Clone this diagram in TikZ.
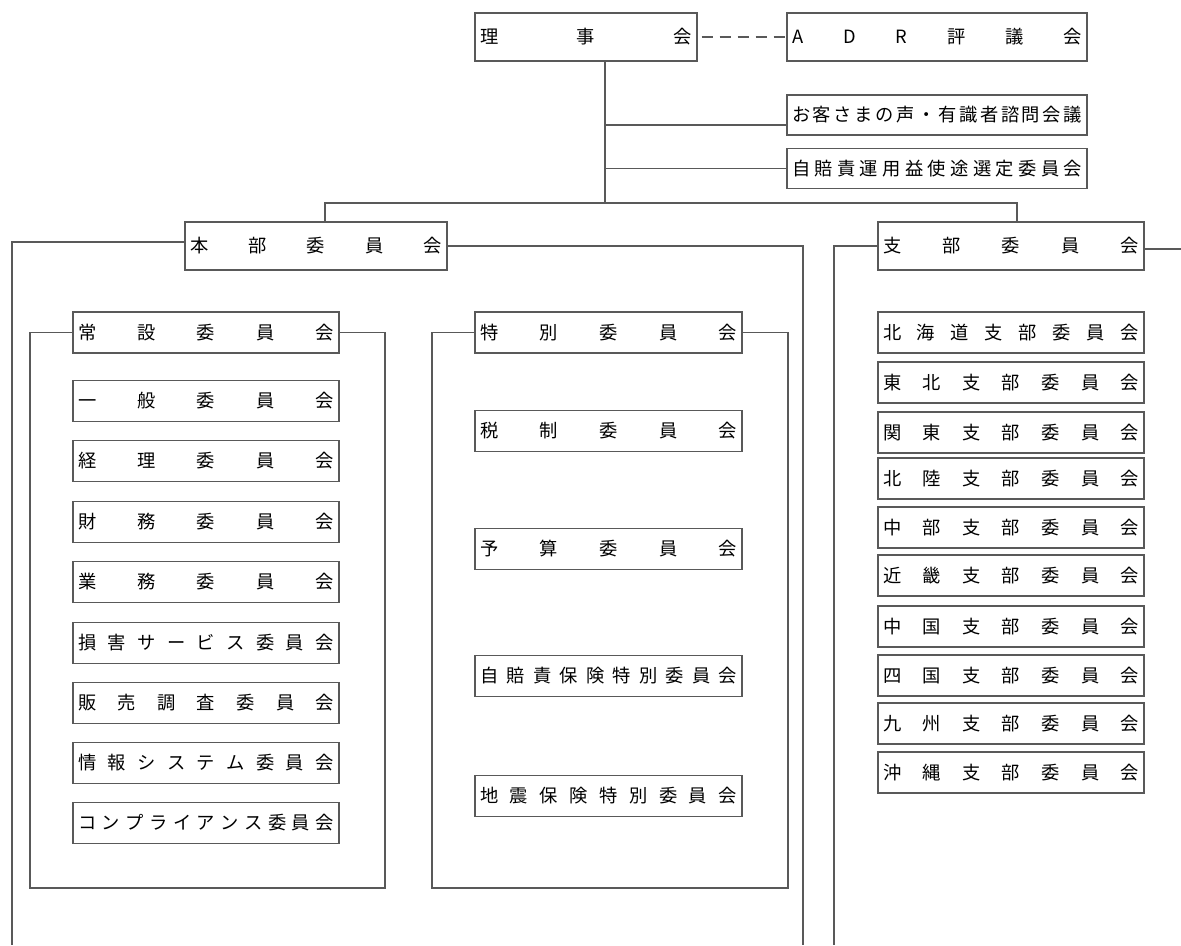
\documentclass[tikz,border=0pt]{standalone}
\usepackage{fontspec}
\setmainfont{Noto Sans CJK JP}
\newlength\pxu
\setlength\pxu{0.025cm}
% spread the characters of a label over the whole box
\def\spreadA#1{\ifx#1\relax\else#1\expandafter\spreadB\fi}
\def\spreadB#1{\ifx#1\relax\else\hfill#1\expandafter\spreadB\fi}
\newcommand\spreadbox[2]{\hbox to #1\pxu{\spreadA#2\relax}}
\begin{document}
\begin{tikzpicture}[x=0.025cm, y=-0.025cm, line width=1.3\pxu, draw=black!65,
  kbox/.style={draw=black!65, inner xsep=5\pxu, inner ysep=0pt, minimum height=41\pxu,
    font=\fontsize{13}{13}\selectfont},
  tall/.style={minimum height=48\pxu}]
  \useasboundingbox (0,0) rectangle (1181,945);
  % top level
  \node[kbox, tall] (riji) at (586,37) {\spreadbox{212}{理事会}};
  \node[kbox, tall] (adr) at (937,37) {\spreadbox{290}{ADR評議会}};
  \node[kbox, minimum height=40\pxu] (koe) at (937,115) {\spreadbox{290}{お客さまの声・有識者諮問会議}};
  \node[kbox, minimum height=40\pxu] (unyo) at (937,168.5) {\spreadbox{290}{自賠責運用益使途選定委員会}};
  \coordinate (trunk) at (605,203);
  \draw[dash pattern=on 11\pxu off 7\pxu, dash phase=-4\pxu] (riji) -- (adr);
  \draw (riji.south -| trunk) -- (trunk);
  \draw (trunk |- 0,125) -- ([yshift=-10\pxu]koe.west);
  \draw (trunk |- unyo) -- (unyo.west);
  % head office and branches
  \node[kbox, tall] (honbu) at (316,246) {\spreadbox{252}{本部委員会}};
  \node[kbox, tall] (shibu) at (1011,246) {\spreadbox{256}{支部委員会}};
  \draw ([xshift=9\pxu]honbu.north) |- (trunk) -| ([xshift=6\pxu]shibu.north);
  \coordinate (hbL) at (12,945);
  \coordinate (hbR) at (803,945);
  \coordinate (sbL) at (834,945);
  \coordinate (sbR) at (1181,249);
  \draw ([yshift=4\pxu]honbu.west) -| (hbL);
  \draw (honbu.east) -| (hbR);
  \draw (shibu.west) -| (sbL);
  \draw ([yshift=-3\pxu]shibu.east) -- ([yshift=-3\pxu]shibu.east -| sbR);
  % standing committees
  \node[kbox] (josetsu) at (206,332.5) {\spreadbox{256}{常設委員会}};
  \coordinate (jsL) at (30,888);
  \coordinate (jsR) at (385,888);
  \draw (josetsu.west) -| (jsL) -- (jsR) |- (josetsu.east);
  \node[kbox] (ippan) at (206,401) {\spreadbox{256}{一般委員会}};
  \node[kbox] (keiri) at (206,461) {\spreadbox{256}{経理委員会}};
  \node[kbox] (zaimu) at (206,522) {\spreadbox{256}{財務委員会}};
  \node[kbox] (gyomu) at (206,582) {\spreadbox{256}{業務委員会}};
  \node[kbox] (songai) at (206,643) {\spreadbox{256}{損害サービス委員会}};
  \node[kbox] (hanbai) at (206,703) {\spreadbox{256}{販売調査委員会}};
  \node[kbox] (joho) at (206,763) {\spreadbox{256}{情報システム委員会}};
  \node[kbox] (compl) at (206,823) {\spreadbox{256}{コンプライアンス委員会}};
  % special committees
  \node[kbox] (tokubetsu) at (608.5,332.5) {\spreadbox{257}{特別委員会}};
  \coordinate (tkL) at (432,888);
  \coordinate (tkR) at (788,888);
  \draw (tokubetsu.west) -| (tkL) -- (tkR) |- (tokubetsu.east);
  \node[kbox] (zeisei) at (608.5,431) {\spreadbox{257}{税制委員会}};
  \node[kbox] (yosan) at (608.5,549) {\spreadbox{257}{予算委員会}};
  \node[kbox] (jibai) at (608.5,676) {\spreadbox{257}{自賠責保険特別委員会}};
  \node[kbox] (jishin) at (608.5,796) {\spreadbox{257}{地震保険特別委員会}};
  % branch committees
  \node[kbox] (hokkaido) at (1011,332.5) {\spreadbox{256}{北海道支部委員会}};
  \node[kbox] (tohoku) at (1011,382.5) {\spreadbox{256}{東北支部委員会}};
  \node[kbox] (kanto) at (1011,432.5) {\spreadbox{256}{関東支部委員会}};
  \node[kbox] (hokuriku) at (1011,478.5) {\spreadbox{256}{北陸支部委員会}};
  \node[kbox] (chubu) at (1011,527.5) {\spreadbox{256}{中部支部委員会}};
  \node[kbox] (kinki) at (1011,575.5) {\spreadbox{256}{近畿支部委員会}};
  \node[kbox] (chugoku) at (1011,626.5) {\spreadbox{256}{中国支部委員会}};
  \node[kbox] (shikoku) at (1011,675.5) {\spreadbox{256}{四国支部委員会}};
  \node[kbox] (kyushu) at (1011,723.5) {\spreadbox{256}{九州支部委員会}};
  \node[kbox] (okinawa) at (1011,772.5) {\spreadbox{256}{沖縄支部委員会}};
\end{tikzpicture}
\end{document}
